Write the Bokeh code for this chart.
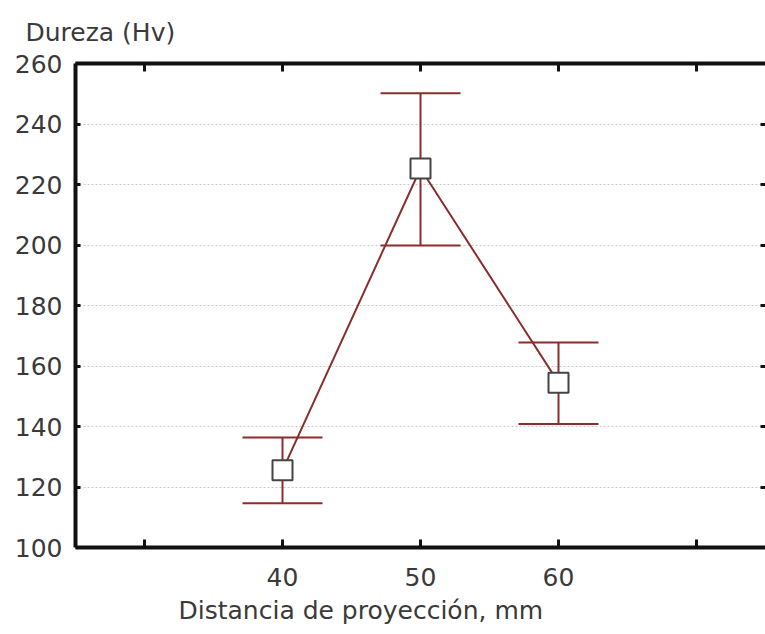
from bokeh.plotting import figure
from bokeh.models import (ColumnDataSource, Whisker, TeeHead, LinearAxis, FixedTicker, Title)
from bokeh.embed import file_html
from bokeh.resources import INLINE

# Data
distance = [40, 50, 60]
hardness_mean = [125.5, 225.3, 154.5]
hardness_upper = [136.4, 250.2, 167.8]
hardness_lower = [114.6, 199.8, 140.8]

x_labeled_ticks = [40, 50, 60]
x_extra_ticks = [30, 70]
x_all_ticks = [30, 40, 50, 60, 70]
y_ticks = [100, 120, 140, 160, 180, 200, 220, 240, 260]
x_label = "Distancia de proyección, mm"
y_label = "Dureza (Hv)"

RED = "#8b2d2d"
TXT = "#3a3a3a"
FONT = "DejaVu Sans"
FS = "25px"

src = ColumnDataSource(dict(x=distance, y=hardness_mean, upper=hardness_upper, lower=hardness_lower))

p = figure(width=765, height=634, x_range=(25, 75), y_range=(100, 260),
           output_backend="svg", toolbar_location=None,
           min_border_left=75, min_border_right=0, min_border_top=63, min_border_bottom=87)
p.outline_line_color = None
p.background_fill_color = "white"
p.border_fill_color = "white"

p.xgrid.visible = False
p.ygrid.ticker = FixedTicker(ticks=y_ticks)
p.ygrid.grid_line_color = "#c8c8c8"
p.ygrid.grid_line_dash = "2 2"
p.ygrid.grid_line_width = 1

def style_axis(ax, tick_in):
    ax.axis_line_color = "#111111"
    ax.axis_line_width = 4
    for kind in ("major", "minor"):
        setattr(ax, kind + "_tick_line_color", "#111111")
        setattr(ax, kind + "_tick_line_width", 3)
        setattr(ax, kind + "_tick_in", tick_in)
        setattr(ax, kind + "_tick_out", 0)
    ax.major_label_text_font = FONT
    ax.major_label_text_font_size = FS
    ax.major_label_text_color = TXT

# bottom axis: labels at 40/50/60, unlabeled ticks at 30/70
xa = p.xaxis[0]
xa.ticker = FixedTicker(ticks=x_labeled_ticks, minor_ticks=x_extra_ticks)
style_axis(xa, 8)
xa.major_label_standoff = 20

# left axis
ya = p.yaxis[0]
ya.ticker = FixedTicker(ticks=y_ticks, minor_ticks=[])
style_axis(ya, 5)
ya.major_label_standoff = 13

# top axis (ticks only)
top = LinearAxis(ticker=FixedTicker(ticks=[], minor_ticks=x_all_ticks))
style_axis(top, 8)
top.major_label_standoff = 0
p.add_layout(top, "above")

# right axis (ticks only)
right = LinearAxis(ticker=FixedTicker(ticks=[], minor_ticks=y_ticks))
style_axis(right, 5)
right.axis_line_color = None
right.major_label_standoff = 0
p.add_layout(right, "right")

# titles as axis labels
t_y = Title(text=y_label, align="left", offset=-50, text_font=FONT, text_font_size=FS,
            text_font_style="normal", text_color=TXT, standoff=30, vertical_align="top")
p.add_layout(t_y, "above")
t_x = Title(text=x_label, align="left", offset=103, text_font=FONT, text_font_size=FS,
            text_font_style="normal", text_color=TXT, standoff=10)
p.add_layout(t_x, "below")

# error bars
w = Whisker(source=src, base="x", upper="upper", lower="lower", dimension="height",
            line_color=RED, line_width=2,
            upper_head=TeeHead(size=80, line_color=RED, line_width=2),
            lower_head=TeeHead(size=80, line_color=RED, line_width=2))
p.add_layout(w)

p.line("x", "y", source=src, line_color=RED, line_width=2)
sq = p.scatter("x", "y", source=src, marker="square", size=20,
               fill_color="white", line_color="#444444", line_width=2)
sq.level = "overlay"

open("out.html", "w").write(file_html(p, INLINE))
